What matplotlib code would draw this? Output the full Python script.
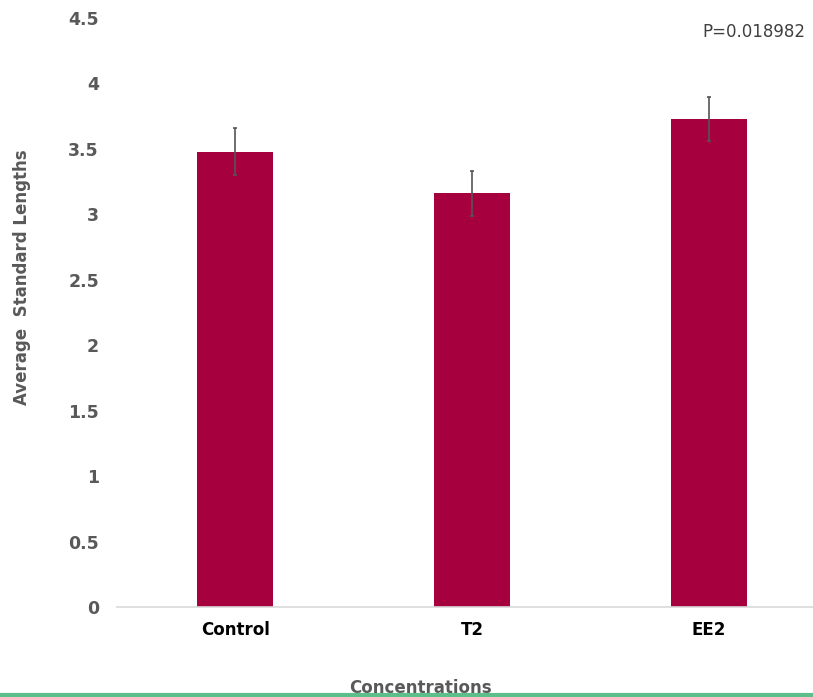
import matplotlib.pyplot as plt
from matplotlib.lines import Line2D

categories = ['Control', 'T2', 'EE2']
means = [3.48, 3.16, 3.73]
errors = [0.18, 0.17, 0.17]
y_ticks = [0, 0.5, 1, 1.5, 2, 2.5, 3, 3.5, 4, 4.5]
p_text = 'P=0.018982'

plt.rcParams['font.family'] = 'DejaVu Sans'

fig = plt.figure(figsize=(8.13, 6.97), dpi=100)
W, H = 813, 697
ax = fig.add_axes([117 / W, (H - 607) / H, 1 - 117 / W, (607 - 18) / H])

x = range(len(categories))
ax.bar(x, means, width=0.32, color='#a6003f', zorder=2)
ax.errorbar(x, means, yerr=errors, fmt='none', ecolor='#555555',
            elinewidth=1.2, capsize=1.5, capthick=1.2, zorder=3)

ax.set_xlim(-0.5, 2.44)
ax.set_ylim(0, 4.5)
ax.set_yticks(y_ticks)
ax.set_yticklabels([f'{t:g}' for t in y_ticks], fontsize=12.5,
                   fontweight='bold', color='#595959')
ax.set_xticks(list(x))
ax.set_xticklabels(categories, fontsize=12, fontweight='bold', color='black')
ax.tick_params(axis='y', length=0, pad=13)
ax.tick_params(axis='x', length=0, pad=10)

for side in ['top', 'right', 'left']:
    ax.spines[side].set_visible(False)
ax.spines['bottom'].set_color('#d9d9d9')
ax.spines['bottom'].set_linewidth(1.2)

fig.text(22 / W, 1 - 277 / H, 'Average  Standard Lengths', rotation=90,
         ha='center', va='center', fontsize=12, fontweight='bold',
         color='#595959')
fig.text(420 / W, 1 - 688 / H, 'Concentrations', ha='center', va='center',
         fontsize=12, fontweight='bold', color='#595959')
fig.text(805 / W, 1 - 32 / H, p_text, ha='right', va='center',
         fontsize=12, color='#404040')

# green strip along the bottom edge, drawn over the clipped axis title
fig.add_artist(Line2D([0, 1], [2 / H, 2 / H], color='#5cbf8a',
                      linewidth=3, transform=fig.transFigure, zorder=10))

fig.savefig('out.png', dpi=100)
